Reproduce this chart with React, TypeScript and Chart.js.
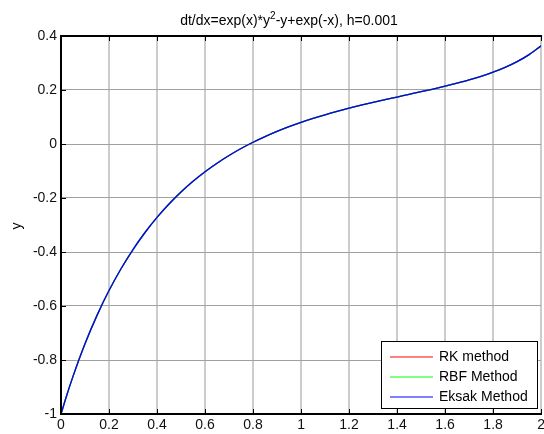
import React, { useEffect, useRef } from "react";
import { Chart, registerables } from "chart.js";

Chart.register(...registerables);

const xs = [0, 0.025, 0.05, 0.1, 0.15, 0.2, 0.25, 0.3, 0.35, 0.4, 0.45, 0.5, 0.55, 0.6, 0.65, 0.7, 0.75, 0.8, 0.85, 0.9, 0.95, 1.0, 1.05, 1.1, 1.15, 1.2, 1.25, 1.3, 1.35, 1.4, 1.45, 1.5, 1.55, 1.6, 1.65, 1.7, 1.75, 1.8, 1.85, 1.9, 1.95, 2.0];
const rkValues = [-1.0, -0.9277, -0.8606, -0.7398, -0.6347, -0.5428, -0.462, -0.3908, -0.3278, -0.2719, -0.2223, -0.178, -0.1384, -0.1029, -0.0711, -0.0425, -0.0167, 0.0066, 0.0276, 0.0468, 0.0642, 0.0802, 0.0948, 0.1083, 0.1208, 0.1326, 0.1436, 0.1541, 0.1642, 0.174, 0.1838, 0.1936, 0.2036, 0.214, 0.2252, 0.2372, 0.2507, 0.2659, 0.2837, 0.305, 0.3309, 0.3639];
const rbfValues = [-1.0, -0.9277, -0.8606, -0.7398, -0.6347, -0.5428, -0.462, -0.3908, -0.3278, -0.2719, -0.2223, -0.178, -0.1384, -0.1029, -0.0711, -0.0425, -0.0167, 0.0066, 0.0276, 0.0468, 0.0642, 0.0802, 0.0948, 0.1083, 0.1208, 0.1326, 0.1436, 0.1541, 0.1642, 0.174, 0.1838, 0.1936, 0.2036, 0.214, 0.2252, 0.2372, 0.2507, 0.2659, 0.2837, 0.305, 0.3309, 0.3639];
const exactValues = [-1.0, -0.9277, -0.8606, -0.7398, -0.6347, -0.5428, -0.462, -0.3908, -0.3278, -0.2719, -0.2223, -0.178, -0.1384, -0.1029, -0.0711, -0.0425, -0.0167, 0.0066, 0.0276, 0.0468, 0.0642, 0.0802, 0.0948, 0.1083, 0.1208, 0.1326, 0.1436, 0.1541, 0.1642, 0.174, 0.1838, 0.1936, 0.2036, 0.214, 0.2252, 0.2372, 0.2507, 0.2659, 0.2837, 0.305, 0.3309, 0.3639];

const xTicks = [0, 0.2, 0.4, 0.6, 0.8, 1, 1.2, 1.4, 1.6, 1.8, 2];
const yTicks = [-1, -0.8, -0.6, -0.4, -0.2, 0, 0.2, 0.4];

const seriesNames = ["RK method", "RBF Method", "Eksak Method"];
const seriesColors = ["#ff0000", "#00ff00", "#0000ff"];

const titleMain = "dt/dx=exp(x)*y";
const titleSup = "2";
const titleRest = "-y+exp(-x), h=0.001";
const yLabel = "y";

const FONT = '"Liberation Sans", Arial, sans-serif';

const fmt = (v: number) => String(Math.round(v * 10) / 10);

const decorPlugin = {
  id: "decor",
  afterDraw(chart: any) {
    const ctx = chart.ctx;
    const { left, top, right, bottom } = chart.chartArea;
    const xs_ = chart.scales.x;
    const ys_ = chart.scales.y;
    ctx.save();
    // top border
    ctx.fillStyle = "#000";
    ctx.fillRect(left - 1, top - 1, right - left + 2, 2);
    // inward ticks
    ctx.strokeStyle = "#000";
    ctx.lineWidth = 1;
    ctx.beginPath();
    xTicks.forEach((t) => {
      const px = Math.round(xs_.getPixelForValue(t)) + 0.5;
      ctx.moveTo(px, bottom);
      ctx.lineTo(px, bottom - 5);
      ctx.moveTo(px, top);
      ctx.lineTo(px, top + 5);
    });
    yTicks.forEach((t) => {
      const py = Math.round(ys_.getPixelForValue(t)) + 0.5;
      ctx.moveTo(left, py);
      ctx.lineTo(left + 5, py);
    });
    ctx.stroke();

    // title
    ctx.fillStyle = "#000";
    ctx.textBaseline = "alphabetic";
    ctx.textAlign = "left";
    ctx.font = `14px ${FONT}`;
    const w1 = ctx.measureText(titleMain).width;
    const w3 = ctx.measureText(titleRest).width;
    ctx.font = `10px ${FONT}`;
    const w2 = ctx.measureText(titleSup).width;
    const total = w1 + w2 + w3;
    const cx = 289;
    let x0 = cx - total / 2;
    const base = 25;
    ctx.font = `14px ${FONT}`;
    ctx.fillText(titleMain, x0, base);
    ctx.font = `10px ${FONT}`;
    ctx.fillText(titleSup, x0 + w1, base - 6);
    ctx.font = `14px ${FONT}`;
    ctx.fillText(titleRest, x0 + w1 + w2, base);

    // y label
    ctx.save();
    ctx.translate(17, 226);
    ctx.rotate(-Math.PI / 2);
    ctx.textAlign = "center";
    ctx.textBaseline = "middle";
    ctx.font = `14px ${FONT}`;
    ctx.fillText(yLabel, 0, 0);
    ctx.restore();

    // legend
    const bx = 381, by = 341, bw = 156, bh = 67;
    ctx.fillStyle = "#fff";
    ctx.fillRect(bx, by, bw, bh);
    ctx.strokeStyle = "#000";
    ctx.lineWidth = 1;
    ctx.strokeRect(bx + 0.5, by + 0.5, bw, bh);
    ctx.font = `14px ${FONT}`;
    ctx.textAlign = "left";
    ctx.textBaseline = "middle";
    seriesNames.forEach((name, i) => {
      const ly = 357 + i * 20;
      ctx.strokeStyle = seriesColors[i];
      ctx.lineWidth = 1;
      ctx.beginPath();
      ctx.moveTo(390, ly);
      ctx.lineTo(433, ly);
      ctx.stroke();
      ctx.fillStyle = "#000";
      ctx.fillText(name, 439, ly);
    });
    ctx.restore();
  },
};

export default function App() {
  const ref = useRef<HTMLCanvasElement | null>(null);
  useEffect(() => {
    if (!ref.current) return;
    const mk = (vals: number[]) => xs.map((x, i) => ({ x, y: vals[i] }));
    const chart = new Chart(ref.current, {
      type: "line",
      data: {
        datasets: [
          { label: seriesNames[0], data: mk(rkValues), borderColor: seriesColors[0], borderWidth: 1.3, pointRadius: 0, cubicInterpolationMode: "monotone", order: 3 },
          { label: seriesNames[1], data: mk(rbfValues), borderColor: seriesColors[1], borderWidth: 1.3, pointRadius: 0, cubicInterpolationMode: "monotone", order: 2 },
          { label: seriesNames[2], data: mk(exactValues), borderColor: seriesColors[2], borderWidth: 1.3, pointRadius: 0, cubicInterpolationMode: "monotone", order: 1 },
        ],
      },
      options: {
        animation: false,
        responsive: false,
        maintainAspectRatio: false,
        layout: { padding: { top: 36, left: 0, right: 4, bottom: 0 }, autoPadding: false },
        plugins: { legend: { display: false }, tooltip: { enabled: false }, title: { display: false } },
        scales: {
          x: {
            type: "linear",
            min: 0,
            max: 2,
            afterBuildTicks: (s: any) => { s.ticks = xTicks.map((v) => ({ value: v })); },
            afterFit: (s: any) => { s.height = 20; },
            ticks: { callback: (v: any) => fmt(Number(v)), color: "#111", font: { family: FONT, size: 14 }, padding: 3, maxRotation: 0, autoSkip: false },
            grid: { color: "#cccccc", lineWidth: 2, drawTicks: false },
            border: { color: "#000", width: 2 },
          },
          y: {
            type: "linear",
            min: -1,
            max: 0.4,
            afterBuildTicks: (s: any) => { s.ticks = yTicks.map((v) => ({ value: v })); },
            afterFit: (s: any) => { s.width = 61; },
            ticks: { callback: (v: any) => fmt(Number(v)), color: "#111", font: { family: FONT, size: 14 }, padding: 4, autoSkip: false },
            grid: { color: "#a0a0a0", lineWidth: 1, drawTicks: false },
            border: { color: "#000", width: 2 },
          },
        },
      },
      plugins: [decorPlugin],
    });
    return () => chart.destroy();
  }, []);
  return (
    <div style={{ position: "absolute", left: 0, top: 0, width: 544, height: 434, overflow: "hidden", background: "#fff" }}>
      <canvas ref={ref} width={548} height={434} style={{ display: "block", width: 548, height: 434 }} />
    </div>
  );
}
